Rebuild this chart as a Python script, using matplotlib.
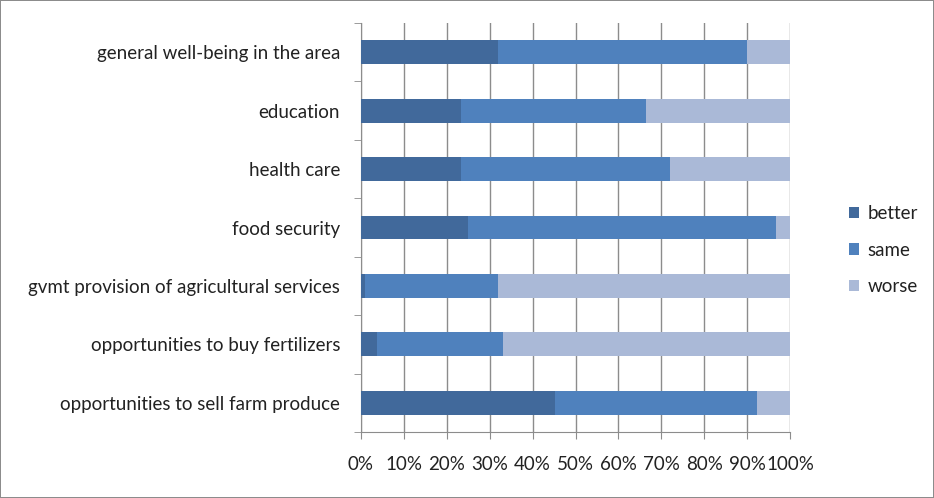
import numpy as np
import matplotlib.pyplot as plt
from matplotlib.ticker import FixedLocator

categories = ["general well-being in the area", "education", "health care", "food security",
              "gvmt provision of agricultural services", "opportunities to buy fertilizers",
              "opportunities to sell farm produce"]
better = [32.0, 23.2, 23.2, 25.0, 0.9, 3.8, 45.2]
same = [58.0, 43.3, 48.8, 71.7, 31.0, 29.3, 47.1]
worse = [10.0, 33.5, 28.0, 3.3, 68.1, 66.9, 7.7]
series_names = ["better", "same", "worse"]
colors = ["#41699B", "#4F81BD", "#AAB9D7"]

plt.rcParams['font.family'] = ['Lato', 'DejaVu Sans']
fs = 13.5

fig = plt.figure(figsize=(9.34, 4.98), dpi=100)
fig.patch.set_edgecolor("#8c8c8c")
fig.patch.set_linewidth(1.2)
ax = fig.add_axes([361/934, 1 - 432/498, 429/934, 409/498])

y = np.arange(len(categories))
left = np.zeros(len(categories))
for vals, name, c in zip([better, same, worse], series_names, colors):
    ax.barh(y, vals, left=left, height=0.41, color=c, label=name, zorder=3)
    left += np.array(vals)

ax.set_xlim(0, 100)
ax.set_ylim(len(categories) - 0.5, -0.5)
ax.set_xticks(np.arange(0, 101, 10))
ax.set_xticklabels([f"{v}%" for v in range(0, 101, 10)], fontsize=fs, color="#222222")
ax.set_yticks(y)
ax.set_yticklabels(categories, fontsize=fs, color="#222222")
ax.yaxis.set_minor_locator(FixedLocator(np.arange(-0.5, len(categories), 1)))
ax.tick_params(axis="y", which="major", length=0, pad=15)
ax.tick_params(axis="y", which="minor", length=5, color="#8c8c8c")
ax.tick_params(axis="x", length=5, color="#8c8c8c", pad=12)
ax.grid(axis="x", color="#8c8c8c", linewidth=1, zorder=0)
for s in ["top", "right"]:
    ax.spines[s].set_visible(False)
for s in ["left", "bottom"]:
    ax.spines[s].set_color("#8c8c8c")

fig.legend(loc="center left", bbox_to_anchor=(832/934, 1 - 250/498), frameon=False,
           fontsize=fs, handlelength=0.55, handleheight=0.55, handletextpad=0.45,
           labelspacing=1.05, labelcolor="#222222")

fig.savefig("out.png", dpi=100)
